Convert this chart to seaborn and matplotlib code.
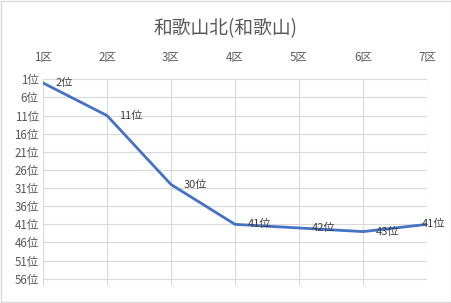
import matplotlib
matplotlib.use("Agg")
import matplotlib.pyplot as plt
import seaborn as sns
import pandas as pd
from matplotlib.patches import Rectangle

title = "和歌山北(和歌山)"
sections = ["1区", "2区", "3区", "4区", "5区", "6区", "7区"]
ranks = [2, 11, 30, 41, 42, 43, 41]
ytick_vals = [1, 6, 11, 16, 21, 26, 31, 36, 41, 46, 51, 56]

sns.set_theme(style="white")
plt.rcParams['font.family'] = ['Noto Sans CJK JP', 'DejaVu Sans']

df = pd.DataFrame({"pos": range(len(sections)), "rank": ranks})

fig = plt.figure(figsize=(4.52, 3.03), dpi=100)
ax = fig.add_axes([0.0951, 0.0561, 0.8496, 0.6822])

sns.lineplot(data=df, x="pos", y="rank", ax=ax, color="#4472C4", linewidth=2.0)

ax.set_xlim(0, len(sections) - 1)
ax.set_ylim(58, 1)
ax.set_xticks(range(len(sections)))
ax.set_xticklabels(sections)
ax.set_yticks(ytick_vals)
ax.set_yticklabels([f"{v}位" for v in ytick_vals])
ax.xaxis.tick_top()
ax.xaxis.set_label_position("top")
ax.set_xlabel("")
ax.set_ylabel("")
ax.tick_params(axis="both", length=0, labelsize=8.3, colors="#595959")
ax.tick_params(axis="x", pad=11)
ax.tick_params(axis="y", pad=3)
ax.grid(True, color="#d9d9d9", linewidth=0.8)
for s in ax.spines.values():
    s.set_visible(False)

n = len(ranks)
for i, r in enumerate(ranks):
    dx = 9 if i < n - 1 else -4
    ax.annotate(f"{r}位", (i, r), xytext=(dx, 0), textcoords="offset points",
                ha="left", va="center", fontsize=8.0, color="#404040",
                annotation_clip=False)

fig.text(0.5, 0.905, title, ha="center", va="center", fontsize=13.5, color="#595959")

fig.patches.append(Rectangle((0.002, 0.003), 0.995, 0.993, transform=fig.transFigure,
                             fill=False, edgecolor="#d9d9d9", linewidth=1.0))

fig.savefig("out.png", dpi=100)
